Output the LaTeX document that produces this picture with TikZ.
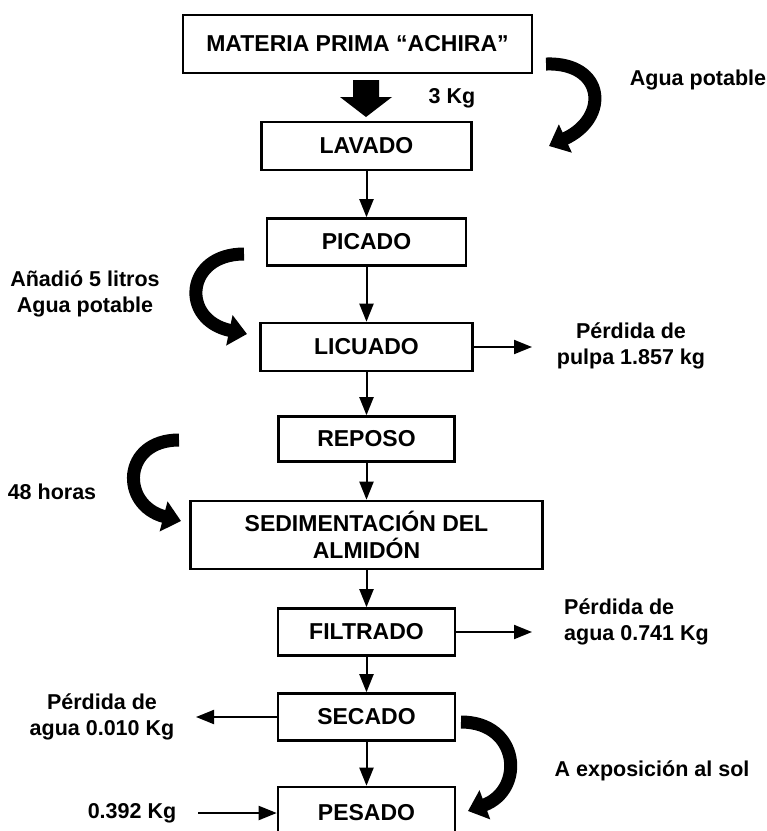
\documentclass[tikz,border=0pt]{standalone}
\usepackage{fontspec}
\setmainfont{Liberation Sans}
\usetikzlibrary{arrows.meta}

\tikzset{
  every node/.style={font=\fontsize{21.5}{26}\selectfont\bfseries, inner sep=0pt},
  stepbox/.style={draw, line width=2.6pt, align=center, minimum height=47pt,
    font=\fontsize{23}{27}\selectfont\bfseries},
  flow/.style={line width=2pt, -{Triangle[width=14pt,length=18pt]}},
  curvearrow/.style={line width=13pt, -{Triangle[width=30pt,length=18pt]}},
  lbl/.style={align=center}
}

\begin{document}
\begin{tikzpicture}[x=1pt, y=-1pt]
  \useasboundingbox (0,0) rectangle (767,831);

  % process steps
  \node[stepbox, minimum width=349pt, minimum height=58pt] (mp) at (357.5,44) {MATERIA PRIMA “ACHIRA”};
  \node[stepbox, minimum width=210pt, minimum height=48pt] (lav) at (366.5,146) {LAVADO};
  \node[stepbox, minimum width=199pt] (pic) at (366.5,242) {PICADO};
  \node[stepbox, minimum width=212pt, minimum height=48pt] (lic) at (366.5,347) {LICUADO};
  \node[stepbox, minimum width=176pt, minimum height=45pt] (rep) at (366.5,439) {REPOSO};
  \node[stepbox, minimum width=352pt, minimum height=68pt] (sed) at (366.5,535) {SEDIMENTACIÓN DEL\\ALMIDÓN};
  \node[stepbox, minimum width=177pt] (fil) at (366.5,632) {FILTRADO};
  \node[stepbox, minimum width=177pt] (sec) at (366.5,717) {SECADO};
  \node[stepbox, minimum width=177pt, minimum height=52pt] (pes) at (366.5,813) {PESADO};

  % block arrow from the raw material into washing
  \fill (353,80) -- (379,80) -- (379,97) -- (392,97) -- (366,117)
        -- (340,97) -- (353,97) -- cycle;

  % main flow
  \draw[flow] (lav) -- (pic);
  \draw[flow] (pic) -- (lic);
  \draw[flow] (lic) -- (rep);
  \draw[flow] (rep) -- (sed);
  \draw[flow] (sed) -- (fil);
  \draw[flow] (fil) -- (sec);
  \draw[flow] (sec) -- (pes);

  % losses and inputs
  \coordinate (pulpa) at (532,347);
  \coordinate (agua1) at (532,632);
  \coordinate (agua2) at (196,717);
  \coordinate (peso) at (198,813);
  \draw[flow] (lic.east) -- (pulpa);
  \draw[flow] (fil.east) -- (agua1);
  \draw[flow] (sec.west) -- (agua2);
  \draw[flow] (peso) -- (pes.west);

  % curved arrows
  \coordinate (c1a) at (546,64);  \coordinate (c1b) at (549,146);
  \coordinate (c2a) at (244,254); \coordinate (c2b) at (247,334);
  \coordinate (c3a) at (179,440); \coordinate (c3b) at (181,521);
  \coordinate (c4a) at (461,722); \coordinate (c4b) at (468,811);
  \draw[curvearrow] (c1a) .. controls (605,62) and (610,118) .. (c1b);
  \draw[curvearrow] (c2a) .. controls (185,254) and (180,320) .. (c2b);
  \draw[curvearrow] (c3a) .. controls (122,440) and (120,505) .. (c3b);
  \draw[curvearrow] (c4a) .. controls (520,722) and (525,790) .. (c4b);

  % labels
  \node (kg3) at (452,98) {3 Kg};
  \node (ap1) at (698,80) {Agua potable};
  \node[lbl] (an) at (85,294) {Añadió 5 litros\\Agua potable};
  \node[lbl] (pp) at (631,346) {Pérdida de\\pulpa 1.857 kg};
  \node (h48) at (52,492) {48 horas};
  \node[align=left, anchor=west] (pa1) at (564,622) {Pérdida de\\agua 0.741 Kg};
  \node[lbl] (pa2) at (102,717) {Pérdida de\\agua 0.010 Kg};
  \node (sol) at (652,771) {A exposición al sol};
  \node (k392) at (132,813) {0.392 Kg};
\end{tikzpicture}
\end{document}
